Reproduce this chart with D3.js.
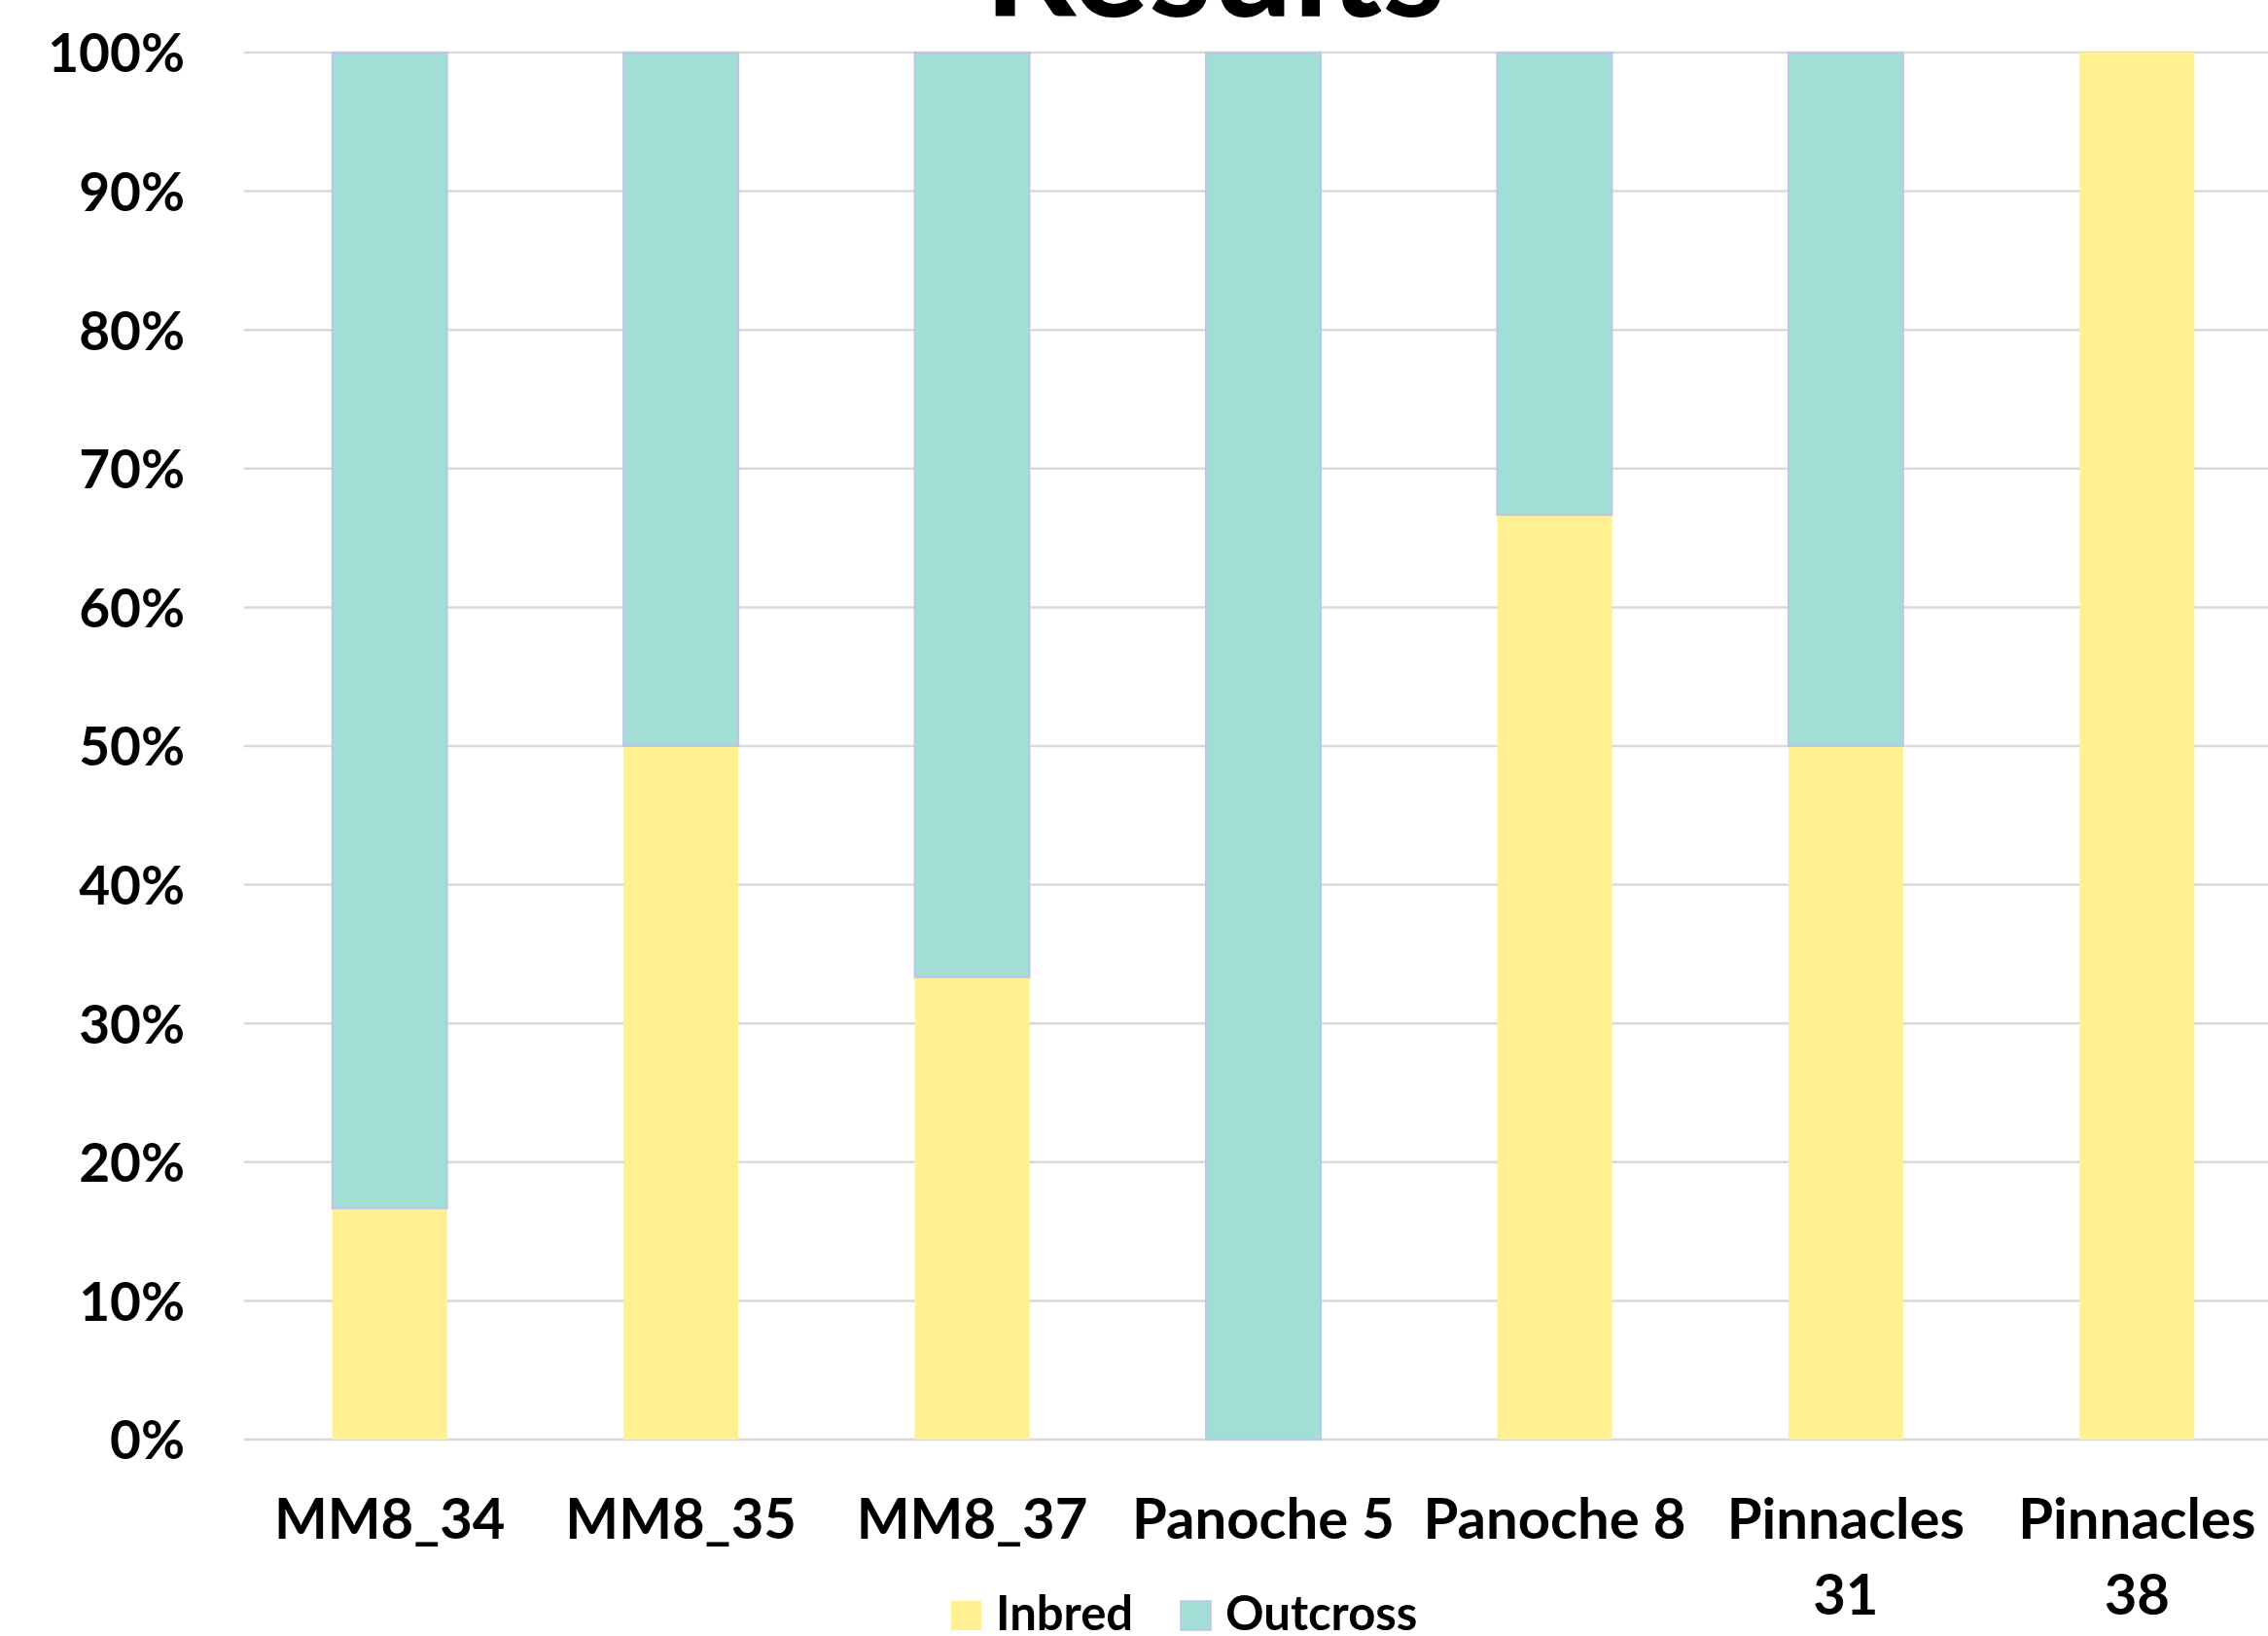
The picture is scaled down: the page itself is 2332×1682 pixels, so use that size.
<!DOCTYPE html>
<html>
<head>
<meta charset="utf-8">
<script src="https://cdn.jsdelivr.net/npm/d3@7"></script>
<style>
  html, body { margin: 0; padding: 0; background: #ffffff; overflow: hidden; }
  svg { display: block; font-family: Lato, "Open Sans", sans-serif; font-weight: 700; }
</style>
</head>
<body>
<script>
// Share of inbred vs. outcrossed offspring per maternal plant
const categories = ["MM8_34", "MM8_35", "MM8_37", "Panoche 5", "Panoche 8", "Pinnacles 31", "Pinnacles 38"];
const inbred   = [1/6, 1/2, 1/3, 0, 2/3, 1/2, 1];
const outcross = [5/6, 1/2, 2/3, 1, 1/3, 1/2, 0];
const seriesNames = ["Inbred", "Outcross"];
const seriesColors = ["#FFF191", "#A2DDD6"];
const yTicks = [0, 0.1, 0.2, 0.3, 0.4, 0.5, 0.6, 0.7, 0.8, 0.9, 1.0];
const titleText = "Results";

const W = 2332, H = 1682;
const svg = d3.select("body").append("svg").attr("width", W).attr("height", H);

const rows = categories.map((c, i) => ({ cat: c, Inbred: inbred[i], Outcross: outcross[i] }));
const stacked = d3.stack().keys(seriesNames)(rows);

const x = d3.scaleBand().domain(categories).range([251, 2347])
  .paddingInner(0.606).paddingOuter(0.303);
const y = d3.scaleLinear().domain([0, 1]).range([1480, 54]);
const color = d3.scaleOrdinal().domain(seriesNames).range(seriesColors);

// gridlines
svg.append("g").selectAll("line").data(yTicks).join("line")
  .attr("x1", 251).attr("x2", W)
  .attr("y1", d => y(d)).attr("y2", d => y(d))
  .attr("stroke", "#d9d9d9").attr("stroke-width", 2.5);

// y axis labels
const yAxis = d3.axisLeft(y).tickValues(yTicks).tickFormat(d3.format(".0%")).tickSize(0).tickPadding(0);
const gy = svg.append("g").attr("transform", "translate(190,0)").call(yAxis);
gy.select(".domain").remove();
gy.selectAll("text").attr("font-size", 55).attr("font-weight", 700).attr("fill", "#000")
  .attr("font-family", "Lato, sans-serif").attr("dy", "0.36em");

// stacked bars
svg.append("g").selectAll("g").data(stacked).join("g")
  .attr("fill", d => color(d.key))
  .attr("stroke", d => d.key === "Outcross" ? "#bcc6e8" : "none")
  .attr("stroke-width", 2)
  .selectAll("rect").data(d => d.filter(p => p[1] - p[0] > 0)).join("rect")
  .attr("x", d => x(d.data.cat))
  .attr("width", x.bandwidth())
  .attr("y", d => y(d[1]))
  .attr("height", d => y(d[0]) - y(d[1]));

// x axis labels, wrapped to the band step
const xAxis = d3.axisBottom(x).tickSize(0).tickPadding(0);
const gx = svg.append("g").attr("transform", "translate(0,1582)").call(xAxis);
gx.select(".domain").remove();
gx.selectAll("text").attr("font-size", 58).attr("font-weight", 700).attr("fill", "#000")
  .attr("font-family", "Lato, sans-serif").attr("dy", 0)
  .each(function(d) {
    const t = d3.select(this);
    const words = d.split(" ");
    t.text(d);
    if (this.getComputedTextLength() > x.step() && words.length > 1) {
      t.text(null);
      t.append("tspan").attr("x", 0).attr("dy", 0).text(words.slice(0, -1).join(" "));
      t.append("tspan").attr("x", 0).attr("dy", 78).text(words[words.length - 1]);
    }
  });

// title
svg.append("text").attr("x", 1249).attr("y", 17).attr("text-anchor", "middle")
  .attr("font-size", 148).attr("font-weight", 700).attr("fill", "#000").text(titleText);

// legend
const legend = svg.append("g");
const legendX = [978, 1214];
seriesNames.forEach((name, i) => {
  legend.append("rect").attr("x", legendX[i]).attr("y", 1646).attr("width", 31).attr("height", 30)
    .attr("fill", seriesColors[i])
    .attr("stroke", name === "Outcross" ? "#bcc6e8" : "none").attr("stroke-width", 1.5);
  legend.append("text").attr("x", legendX[i] + 46).attr("y", 1676)
    .attr("font-size", 49).attr("font-weight", 700).attr("fill", "#000").text(name);
});
</script>
</body>
</html>
